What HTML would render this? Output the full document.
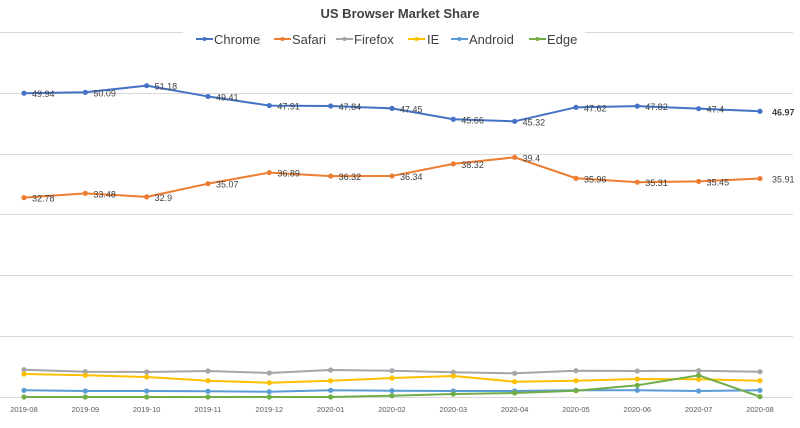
<!DOCTYPE html>
<html><head><meta charset="utf-8"><style>
html,body{margin:0;padding:0;background:#fff;}
svg{display:block;font-family:"Liberation Sans",sans-serif;}
</style></head><body>
<svg width="800" height="428" viewBox="0 0 800 428" xmlns="http://www.w3.org/2000/svg">
<g stroke="#d9d9d9" stroke-width="1">
<line x1="0" y1="32.5" x2="183" y2="32.5"/><line x1="585" y1="32.5" x2="793" y2="32.5"/>
<line x1="0" y1="93.5" x2="793" y2="93.5"/>
<line x1="0" y1="154.5" x2="793" y2="154.5"/>
<line x1="0" y1="214.5" x2="793" y2="214.5"/>
<line x1="0" y1="275.5" x2="793" y2="275.5"/>
<line x1="0" y1="336.5" x2="793" y2="336.5"/>
<line x1="0" y1="397.5" x2="793" y2="397.5"/>
</g>
<text x="400" y="18" text-anchor="middle" font-size="13" font-weight="bold" fill="#404040">US Browser Market Share</text>
<g font-size="13" fill="#404040">
<line x1="196" y1="39" x2="213" y2="39" stroke="#4472c4" stroke-width="2"/><circle cx="204.5" cy="39" r="2" fill="#4472c4"/><text x="214" y="44">Chrome</text>
<line x1="274" y1="39" x2="291" y2="39" stroke="#ed7d31" stroke-width="2"/><circle cx="282.5" cy="39" r="2" fill="#ed7d31"/><text x="292" y="44">Safari</text>
<line x1="336" y1="39" x2="353" y2="39" stroke="#a5a5a5" stroke-width="2"/><circle cx="344.5" cy="39" r="2" fill="#a5a5a5"/><text x="354" y="44">Firefox</text>
<line x1="408" y1="39" x2="425" y2="39" stroke="#ffc000" stroke-width="2"/><circle cx="416.5" cy="39" r="2" fill="#ffc000"/><text x="427" y="44">IE</text>
<line x1="451" y1="39" x2="468" y2="39" stroke="#5b9bd5" stroke-width="2"/><circle cx="459.5" cy="39" r="2" fill="#5b9bd5"/><text x="469" y="44">Android</text>
<line x1="529" y1="39" x2="546" y2="39" stroke="#70ad47" stroke-width="2"/><circle cx="537.5" cy="39" r="2" fill="#70ad47"/><text x="547" y="44">Edge</text>
</g>
<g id="series"></g>
<g font-size="7.5" fill="#595959" text-anchor="middle" id="xl"></g>
</svg>
<script>
var xs=[];for(var i=0;i<13;i++)xs.push(24+i*61.33);
function Y(v){return 397-v*6.083;}
var ch=[49.94,50.09,51.18,49.41,47.91,47.84,47.45,45.66,45.32,47.62,47.82,47.4,46.97];
var sa=[32.78,33.48,32.9,35.07,36.89,36.32,36.34,38.32,39.4,35.96,35.31,35.45,35.91];
var ff=[369.7,371.7,372,371,373,370,370.7,372.3,373.3,370.7,371,370.7,371.7];
var ie=[374,375.3,377,380.7,382.7,380.7,378,376,381.7,380.7,379,379.3,380.7];
var an=[390.3,391,391,391.3,391.7,390.3,390.7,391,391,390.3,390.3,391,390.3];
var ed=[397,397,397,397,397,397,395.7,394,393,390.7,385.3,375.3,396.7];
var ns="http://www.w3.org/2000/svg",g=document.getElementById('series');
function el(t,a,p){var e=document.createElementNS(ns,t);for(var k in a)e.setAttribute(k,a[k]);(p||g).appendChild(e);return e;}
function series(ys,c){var pts=ys.map(function(y,i){return xs[i]+','+y;}).join(' ');
el('polyline',{points:pts,fill:'none',stroke:c,'stroke-width':2,'stroke-linejoin':'round'});
ys.forEach(function(y,i){el('circle',{cx:xs[i],cy:y,r:2.6,fill:c});});}
series(ff,'#a5a5a5');series(ie,'#ffc000');series(an,'#5b9bd5');series(ed,'#70ad47');
series(ch.map(Y),'#4472c4');series(sa.map(Y),'#ed7d31');
function labels(v,off){v.forEach(function(val,i){var t=el('text',{x:xs[i]+(i==12?12:8),y:Y(val)+off,'font-size':9,fill:'#404040'});
if(i==12&&off>0&&v===ch)t.setAttribute('font-weight','bold');t.textContent=String(val);});}
labels(ch,4);labels(sa,4);
var xl=document.getElementById('xl');
var lab=['2019-08','2019-09','2019-10','2019-11','2019-12','2020-01','2020-02','2020-03','2020-04','2020-05','2020-06','2020-07','2020-08'];
lab.forEach(function(s,i){var t=el('text',{x:xs[i],y:412},xl);t.textContent=s;});
</script>
</body></html>
